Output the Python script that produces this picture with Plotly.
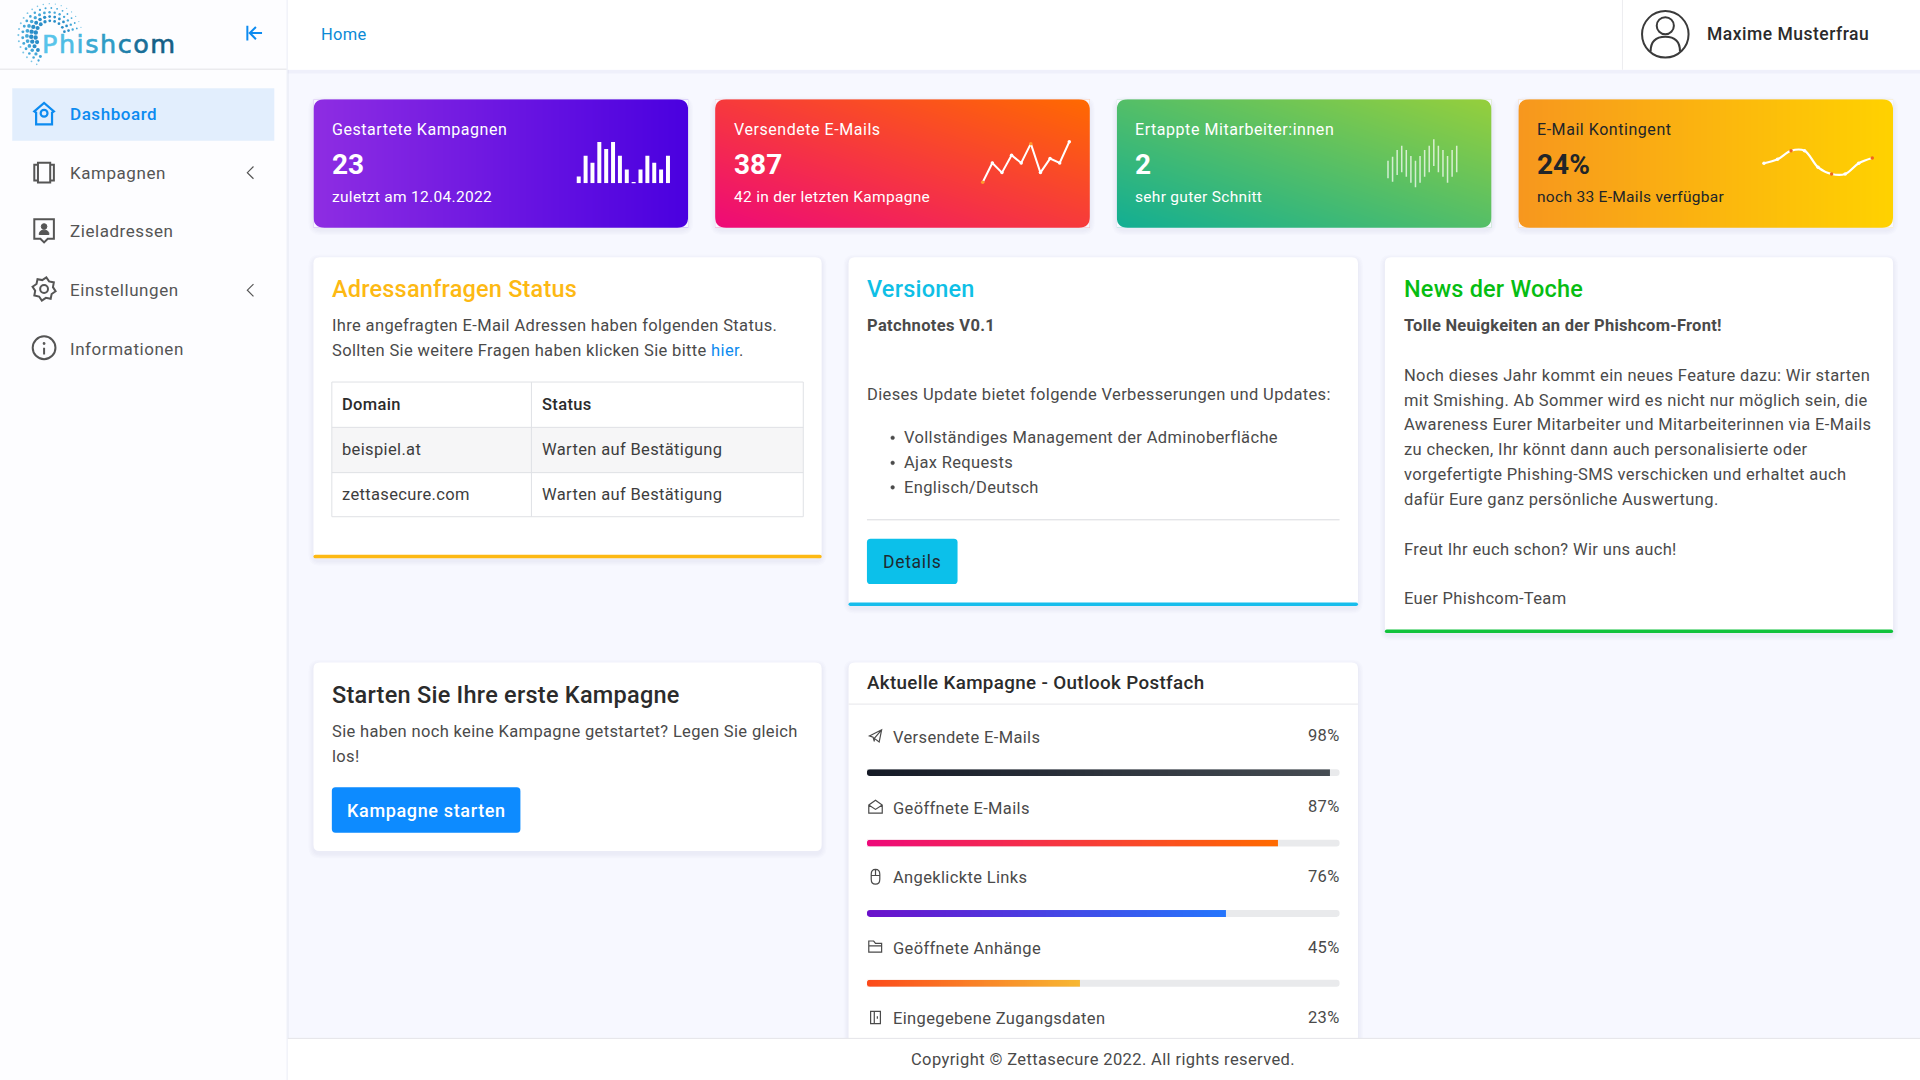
import math
import re
import plotly.graph_objects as go

# Werte aus dem Dashboard
menu_labels = ["Dashboard", "Kampagnen", "Zieladressen", "Einstellungen", "Informationen"]
kpi_titles = ["Gestartete Kampagnen", "Versendete E-Mails", "Ertappte Mitarbeiter:innen", "E-Mail Kontingent"]
kpi_values = ["23", "387", "2", "24%"]
kpi_notes = ["zuletzt am 12.04.2022", "42 in der letzten Kampagne", "sehr guter Schnitt", "noch 33 E-Mails verfügbar"]

spark_bars = [2, 8, 6, 12, 10, 12, 8, 4, 0.4, 4, 8, 6, 4, 8]
spark_line = [1, 5, 3, 6.6, 5, 9, 3, 5.9, 5, 9.4]
spark_line_spots = ["#ff9a2e", "white", "white", "white", "white", "#ff9a2e", "white", "white", "white", "#ffffff"]
spark_range_low = [11.7, 8.3, 15, 17.7, 13.3, 7.3, 2.7, 7.3, 13.3, 17.7, 24, 17.7, 13.3, 7.3, 13.3, 17.7]
spark_range_high = [29.3, 33.3, 40, 44.3, 40, 34, 29.3, 34, 40, 44.3, 50.7, 44.3, 40, 34, 40, 44.3]
spark_curve = [10.7, 14.7, 23.3, 23.3, 6.7, 0, 0, 10.7, 16]
spark_curve_spots = ["white", "white", "#f0641e", "white", "white", "#f0641e", "white", "white", "#f0641e"]

table_head = ["Domain", "Status"]
table_domains = ["beispiel.at", "zettasecure.com"]
table_status = ["Warten auf Bestätigung", "Warten auf Bestätigung"]

version_bullets = ["Vollständiges Management der Adminoberfläche", "Ajax Requests", "Englisch/Deutsch"]
news_lines = [
    "Noch dieses Jahr kommt ein neues Feature dazu: Wir starten",
    "mit Smishing. Ab Sommer wird es nicht nur möglich sein, die",
    "Awareness Eurer Mitarbeiter und Mitarbeiterinnen via E-Mails",
    "zu checken, Ihr könnt dann auch personalisierte oder",
    "vorgefertigte Phishing-SMS verschicken und erhaltet auch",
    "dafür Eure ganz persönliche Auswertung.",
]

progress_labels = ["Versendete E-Mails", "Geöffnete E-Mails", "Angeklickte Links", "Geöffnete Anhänge", "Eingegebene Zugangsdaten"]
progress_values = [98, 87, 76, 45, 23]
progress_colors = [("#151a26", "#454c52"), ("#ee0979", "#ff6a00"), ("#6a11cb", "#2575fc"), ("#fc4a1a", "#f7b733")]

# Das Layout rechnet in Koordinaten 1568x882, die Achse skaliert auf 1920x1080
W, H = 1568, 882
K = 1920 / 1568
BLUE = "#0d8bf0"
GREY = "#4a4a4a"
MENU = "#555555"
DARK = "#2b2b2b"
CARD_X = [256, 584, 912, 1240]
CARD_W = 306

fig = go.Figure()
shapes = []
notes = []
axes = {}
axis_no = 1


def sub_axes(x0, y0, x1, y1, xr, yr):
    # eigene Achsen für Sparkline oder Verlauf, Angaben in Pixeln der 1920x1080 Seite
    global axis_no
    axis_no += 1
    n = axis_no
    axes[f"xaxis{n}"] = dict(domain=[x0 / 1920, x1 / 1920], range=xr, visible=False, anchor=f"y{n}", fixedrange=True)
    axes[f"yaxis{n}"] = dict(domain=[1 - y1 / 1080, 1 - y0 / 1080], range=yr, visible=False, anchor=f"x{n}", fixedrange=True)
    return dict(xaxis=f"x{n}", yaxis=f"y{n}")


def text(x, y, s, size=16.5, color=GREY, weight=400, anchor="left", spacing=0.35, font="Roboto"):
    # Annotationen haben etwas Innenabstand, der hier ausgeglichen wird
    if anchor == "left":
        x -= 1.4
    elif anchor == "right":
        x += 1.8
    notes.append(dict(
        x=x, y=y, xref="x", yref="y", showarrow=False, xanchor=anchor, yanchor="middle",
        text=f'<span style="letter-spacing:{spacing}px">{s}</span>',
        font=dict(family=font, size=size, color=color, weight=weight),
    ))


def rrect(x0, y0, x1, y1, r):
    return (f"M {x0+r},{y0} L {x1-r},{y0} Q {x1},{y0} {x1},{y0+r} L {x1},{y1-r} Q {x1},{y1} {x1-r},{y1} "
            f"L {x0+r},{y1} Q {x0},{y1} {x0},{y1-r} L {x0},{y0+r} Q {x0},{y0} {x0+r},{y0} Z")


def box(x0, y0, x1, y1, fill, r=0, layer="below", line=None):
    s = dict(type="path", path=rrect(x0, y0, x1, y1, r), fillcolor=fill, layer=layer, xref="x", yref="y",
             line=dict(width=line[1], color=line[0]) if line else dict(width=0))
    shapes.append(s)


def hline(x0, x1, y, color="#e3e4e8", width=1, layer="below"):
    shapes.append(dict(type="line", x0=x0, x1=x1, y0=y, y1=y, line=dict(color=color, width=width), layer=layer, xref="x", yref="y"))


def vline(x, y0, y1, color="#e3e4e8", width=1):
    shapes.append(dict(type="line", x0=x, x1=x, y0=y0, y1=y1, line=dict(color=color, width=width), layer="below", xref="x", yref="y"))


def icon(cx, cy, d, color=GREY, width=1.8, fill="rgba(0,0,0,0)"):
    # Pfad relativ zum Mittelpunkt des Symbols
    def move(m):
        return f"{cx + float(m.group(1))},{cy + float(m.group(2))}"
    shapes.append(dict(type="path", path=re.sub(r"(-?[\d.]+),(-?[\d.]+)", move, d), fillcolor=fill, layer="above",
                       line=dict(color=color, width=width), xref="x", yref="y"))


def ring(cx, cy, r, color=GREY, width=1.8, fill="rgba(0,0,0,0)"):
    shapes.append(dict(type="circle", x0=cx - r, x1=cx + r, y0=cy - r, y1=cy + r, fillcolor=fill, layer="above",
                       line=dict(color=color, width=width), xref="x", yref="y"))


def corners(x0, y0, x1, y1, r, bg):
    # runde Ecken über die Verlaufsflächen legen
    for cx, cy, sx, sy in [(x0, y0, 1, 1), (x1, y0, -1, 1), (x0, y1, 1, -1), (x1, y1, -1, -1)]:
        shapes.append(dict(type="path", fillcolor=bg, layer="above", xref="x", yref="y", line=dict(width=0),
                           path=f"M {cx},{cy} L {cx+sx*r},{cy} Q {cx},{cy} {cx},{cy+sy*r} Z"))


def shadow(x0, y0, x1, y1, r):
    for i in [4, 3, 2, 1]:
        box(x0 - i, y0 - i + 2, x1 + i, y1 + i + 2, "rgba(90,90,170,0.02)", r + i)


def panel(x0, y0, x1, y1, border=None):
    shadow(x0, y0, x1, y1, 5)
    box(x0, y0, x1, y1, "white", 5)
    if border:
        box(x0, y1 - 3, x1, y1, border, 1.5)


BG = "#f7f8ff"

# Hintergrundflächen
box(0, 0, 236, H, "#eef0f8")
box(0, 0, 234, H, "#fdfdff")
box(235, 57, W, 60, "rgba(120,120,180,0.06)")
box(235, 0, W, 57, "white")
hline(0, 234, 56.5, "#e2e2e6")
vline(1325, 0, 57, "#ececf0")

# Logo: Punktbogen von rechts oben über links nach unten
for i, (r_dot, n_dots, size) in enumerate([(12, 13, 1.5), (15.5, 16, 1.5), (19, 19, 1.3), (22.5, 20, 1.0), (26, 22, 0.7)]):
    for j in range(n_dots):
        a = math.radians(345 - j * 230 / (n_dots - 1))
        xd = 41 + r_dot * math.cos(a)
        yd = 29 + r_dot * math.sin(a)
        if xd > 32 and yd > 26 and yd < 46:
            continue
        grow = 0.75 + 0.45 * max(0, -math.cos(a))
        col = "#2a8ec8" if i < 2 else ("#45a8d8" if i < 4 else "#7cc6e6")
        s = size * grow
        shapes.append(dict(type="circle", x0=xd - s, x1=xd + s, y0=yd - s, y1=yd + s, fillcolor=col,
                           line=dict(width=0), layer="above", xref="x", yref="y"))
logo_colors = ["#58c4ea", "#4fbce4", "#45b4dc", "#3aa9d2", "#2f9cc6", "#2080aa", "#1a6f98", "#155f86"]
logo = "".join(f'<span style="fill:{c};stroke:{c};stroke-width:0.6px">{ch}</span>' for ch, c in zip("Phishcom", logo_colors))
text(34, 36, logo, size=25.5, font="DejaVu Sans", spacing=1.5)
icon(208, 27, "M -6,-6 L -6,6 M 6,0 L -3,0 M 1,-5 L -4,0 L 1,5", BLUE, 2)

# Menü
box(10, 72, 224, 115, "#e2eefd")
menu_y = [93, 141, 189, 237, 285]
for label, y in zip(menu_labels, menu_y):
    active = label == "Dashboard"
    text(57, y, label, size=17, color=BLUE if active else MENU, weight=500 if active else 400, spacing=0.55)
for y in [141, 237]:
    icon(204, y, "M 3,-5 L -2,0 L 3,5", MENU, 1.2)

icon(36, 93, "M -8,-2 L 0,-9 L 8,-2 L 6.5,-1 L 6.5,8.5 L -6.5,8.5 L -6.5,-1 Z", BLUE, 2.2)
ring(36, 92.5, 2.8, BLUE, 2.2)
icon(36, 141, "M -5,-8 L 5,-8 L 5,8 L -5,8 Z M -5,-6.5 L -8,-6.5 L -8,6.5 L -5,6.5 M 5,-6.5 L 8,-6.5 L 8,6.5 L 5,6.5", MENU, 2)
icon(36, 188, "M -8,-9 L 8,-9 L 8,7 L 3,7 L 0,10 L -3,7 L -8,7 Z", MENU, 2)
ring(36, 185, 2.3, MENU, 1, MENU)
icon(36, 188, "M -4,3.5 Q -4,0 0,0 Q 4,0 4,3.5 Z", MENU, 1, MENU)
gear = []
for k in range(16):
    a = math.radians(k * 22.5 + 11)
    r = 9.6 if k % 2 == 0 else 7.4
    gear.append(f"{r * math.cos(a):.2f},{r * math.sin(a):.2f}")
icon(36, 236, "M " + " L ".join(gear) + " Z", MENU, 2)
ring(36, 236, 3.2, MENU, 2)
ring(36, 284, 9.3, MENU, 2)
icon(36, 285, "M 0,-1 L 0,4.5", MENU, 2)
ring(36, 280.5, 0.5, MENU, 1.6, MENU)

# Kopfzeile
text(262, 28, "Home", size=16.5, color="#0b8ad6", spacing=0.3)
ring(1360, 28, 19, "#3a3a3a", 2)
ring(1360, 21, 7, "#3a3a3a", 2)
icon(1360, 28, "M -12,14 Q -12,2 0,2 Q 12,2 12,14", "#3a3a3a", 2)
text(1394, 28, "Maxime Musterfrau", size=17.5, color=DARK, weight=500, spacing=0.5)

# KPI-Karten mit Verlauf
card_colors = [
    ([[0, 1], [0, 1]], "#8e2de2", "#4a00e0"),
    ([[0, 0.5], [0.5, 1]], "#ee0979", "#ff6a00"),
    ([[0, 0.5], [0.5, 1]], "#11ae94", "#96cf3c"),
    ([[0, 1], [0, 1]], "#f7971e", "#ffd200"),
]
for i, x in enumerate(CARD_X):
    z, c0, c1 = card_colors[i]
    shadow(x, 81, x + CARD_W, 186, 6)
    fig.add_trace(go.Heatmap(
        x=[0, 1], y=[0, 1], z=z, zsmooth="best", zmin=0, zmax=1, showscale=False, hoverinfo="skip",
        colorscale=[[0, c0], [1, c1]],
        **sub_axes(x * K, 81 * K, (x + CARD_W) * K, 186 * K, [0, 1], [0, 1]),
    ))
    corners(x, 81, x + CARD_W, 186, 9, BG)
    ink = "#212529" if i == 3 else "white"
    text(x + 15, 105.5, kpi_titles[i], size=16, color=ink, spacing=0.55)
    text(x + 15, 134, kpi_values[i], size=28, color=ink, weight=700, spacing=0)
    text(x + 15, 161, kpi_notes[i], size=15.5, color=ink, spacing=0.3)

fig.add_trace(go.Bar(
    x=list(range(len(spark_bars))), y=spark_bars, width=0.58, marker=dict(color="white", line=dict(width=0)), hoverinfo="skip",
    **sub_axes(575.3, 142, 671.4, 183.3, [-0.5, 13.5], [0, 12]),
))
# Achsen etwas weiter als die Daten, sonst schneidet der Plotbereich die Linie ab
fig.add_trace(go.Scatter(
    x=list(range(len(spark_line))), y=spark_line, mode="lines+markers", cliponaxis=False, hoverinfo="skip",
    line=dict(color="white", width=2), marker=dict(size=3.5, color=spark_line_spots),
    **sub_axes(977.9, 136.9, 1074.1, 187.1, [-0.5, 9.5], [0, 10.4]),
))
fig.add_trace(go.Bar(
    x=list(range(len(spark_range_low))), y=[h - l for h, l in zip(spark_range_high, spark_range_low)], base=spark_range_low,
    width=0.33, marker=dict(color="rgba(255,255,255,0.72)", line=dict(width=0)), hoverinfo="skip",
    **sub_axes(1385.7, 130, 1459, 190, [-0.5, 15.5], [0, 60]),
))
fig.add_trace(go.Scatter(
    x=list(range(len(spark_curve))), y=spark_curve, mode="lines+markers", cliponaxis=False, hoverinfo="skip",
    line=dict(color="white", width=2.2, shape="spline"), marker=dict(size=3.5, color=spark_curve_spots),
    **sub_axes(1757.2, 145.7, 1879, 179, [-0.5, 8.5], [-5, 28.3]),
))

# Adressanfragen
panel(256, 210, 671, 456, "#fdb913")
text(271, 236, "Adressanfragen Status", size=23.5, color="#fdb913", weight=500, spacing=0.2)
text(271, 266, "Ihre angefragten E-Mail Adressen haben folgenden Status.")
text(271, 286, f'Sollten Sie weitere Fragen haben klicken Sie bitte <span style="fill:{BLUE}">hier</span>.')
box(271, 349, 656, 386, "#f6f6f7")
for y in [312, 349, 386, 422]:
    hline(271, 656, y, "#dfe1e5")
for x in [271, 434, 656]:
    vline(x, 312, 422, "#dfe1e5")
text(279, 330.5, table_head[0], color=DARK, weight=500)
text(442, 330.5, table_head[1], color=DARK, weight=500)
for dom, st, y in zip(table_domains, table_status, [367, 404]):
    text(279, y, dom, color="#3d3d3d")
    text(442, y, st, color="#3d3d3d")

# Versionen
panel(693, 210, 1109, 495, "#17bdec")
text(708, 236, "Versionen", size=23.5, color="#0fbfe6", weight=500, spacing=0.2)
text(708, 266, "Patchnotes V0.1", color=GREY, weight=700)
text(708, 322, "Dieses Update bietet folgende Verbesserungen und Updates:")
for s, y in zip(version_bullets, [357.5, 378, 398]):
    ring(729, y, 1.5, GREY, 0.5, GREY)
    text(738, y, s)
hline(708, 1094, 424.5, "#d9dade")
box(708, 440, 782, 477, "#0cc0ea", 3)
text(745, 459, "Details", size=17.5, color="#1f2a30", weight=400, anchor="center", spacing=0.7)

# News
panel(1131, 210, 1546, 517, "#11c23c")
text(1146, 236, "News der Woche", size=23.5, color="#06bd12", weight=500, spacing=0.2)
text(1146, 266, "Tolle Neuigkeiten an der Phishcom-Front!", color=GREY, weight=700, spacing=0.25)
for s, y in zip(news_lines, [306.5, 327, 347, 367, 387.5, 408]):
    text(1146, y, s)
text(1146, 448.5, "Freut Ihr euch schon? Wir uns auch!")
text(1146, 489, "Euer Phishcom-Team")

# Erste Kampagne
panel(256, 541, 671, 695)
text(271, 567.5, "Starten Sie Ihre erste Kampagne", size=23.5, color=DARK, weight=500, spacing=0.25)
text(271, 597, "Sie haben noch keine Kampagne getstartet? Legen Sie gleich")
text(271, 617.5, "los!")
box(271, 643, 425, 680, "#0d8bff", 3)
text(348, 662, "Kampagne starten", size=18, color="white", weight=500, anchor="center", spacing=0.65)

# Aktuelle Kampagne
panel(693, 541, 1109, 860)
text(708, 558, "Aktuelle Kampagne - Outlook Postfach", size=18.8, color=DARK, weight=500, spacing=0.35)
hline(693, 1109, 575, "#e6e6ea")
label_y = [602, 660, 717, 775, 832]
bar_y = [631, 688.5, 746, 803]
for label, val, y in zip(progress_labels, progress_values, label_y):
    text(729, y, label, size=16.5, spacing=0.35)
    text(1094, y - 1, f"{val}%", size=16.5, anchor="right", spacing=0.3)

for val, colors, y in zip(progress_values, progress_colors, bar_y):
    box(708, y - 2.8, 1094, y + 2.8, "#e9eaec", 2.5)
    n = 100
    fig.add_trace(go.Heatmap(
        x0=val / n / 2, dx=val / n, y=[0], z=[[k / (n - 1) for k in range(n)]], zmin=0, zmax=1, showscale=False,
        hoverinfo="skip", colorscale=[[0, colors[0]], [1, colors[1]]],
        **sub_axes(708 * K, (y - 2.8) * K, 1094 * K, (y + 2.8) * K, [0, 100], [-0.5, 0.5]),
    ))
    for cy, sy in [(y - 2.8, 1), (y + 2.8, -1)]:
        shapes.append(dict(type="path", fillcolor="white", layer="above", xref="x", yref="y", line=dict(width=0),
                           path=f"M 708,{cy} L 710.5,{cy} Q 708,{cy} 708,{cy+sy*2.5} Z"))

# kleine Symbole der Fortschrittszeilen
icon(715, 601, "M -5,0 L 5,-5 L 3,5 L -1,2 L -1,4.5 L -2,1 Z M 5,-5 L -1,2", "#4a4a4a", 1.2)
icon(715, 659, "M -5.5,-1.5 L 0,-5.5 L 5.5,-1.5 L 5.5,5 L -5.5,5 Z M -5.5,-1.5 L 0,2 L 5.5,-1.5", "#4a4a4a", 1.2)
icon(715, 716, "M -3.5,-2 Q -3.5,-6 0,-6 Q 3.5,-6 3.5,-2 L 3.5,2 Q 3.5,6 0,6 Q -3.5,6 -3.5,2 Z M -3.5,-1 L 3.5,-1 M 0,-6 L 0,-1", "#4a4a4a", 1.2)
icon(715, 773, "M -5.5,-4.5 L -1.5,-4.5 L 0,-2.5 L 5,-2.5 L 5,4.5 L -5.5,4.5 Z M -5.5,-0.5 L 5.5,-0.5", "#4a4a4a", 1.2)
icon(715, 831, "M -4,-5 L 4,-5 L 4,5 L -4,5 Z M -1,-5 L -1,5 M 1.5,-1 L 1.5,1", "#4a4a4a", 1.2)

# Fußzeile
box(235, 848, W, H, "white", layer="above")
hline(235, W, 848, "#e4e4e8", layer="above")
text(900.5, 865, "Copyright © Zettasecure 2022. All rights reserved.", size=16.5, anchor="center", spacing=0.38)

fig.update_layout(
    width=1920, height=1080, margin=dict(l=0, r=0, t=0, b=0), showlegend=False,
    paper_bgcolor=BG, plot_bgcolor="rgba(0,0,0,0)", barmode="overlay",
    xaxis=dict(domain=[0, 1], range=[0, W], visible=False, fixedrange=True),
    yaxis=dict(domain=[0, 1], range=[H, 0], visible=False, fixedrange=True),
    shapes=shapes, annotations=notes, font=dict(family="Roboto"),
    **axes,
)
fig.write_html("out.html", config=dict(displayModeBar=False),
               post_script="document.body.style.margin='0';document.body.style.overflow='hidden';")
